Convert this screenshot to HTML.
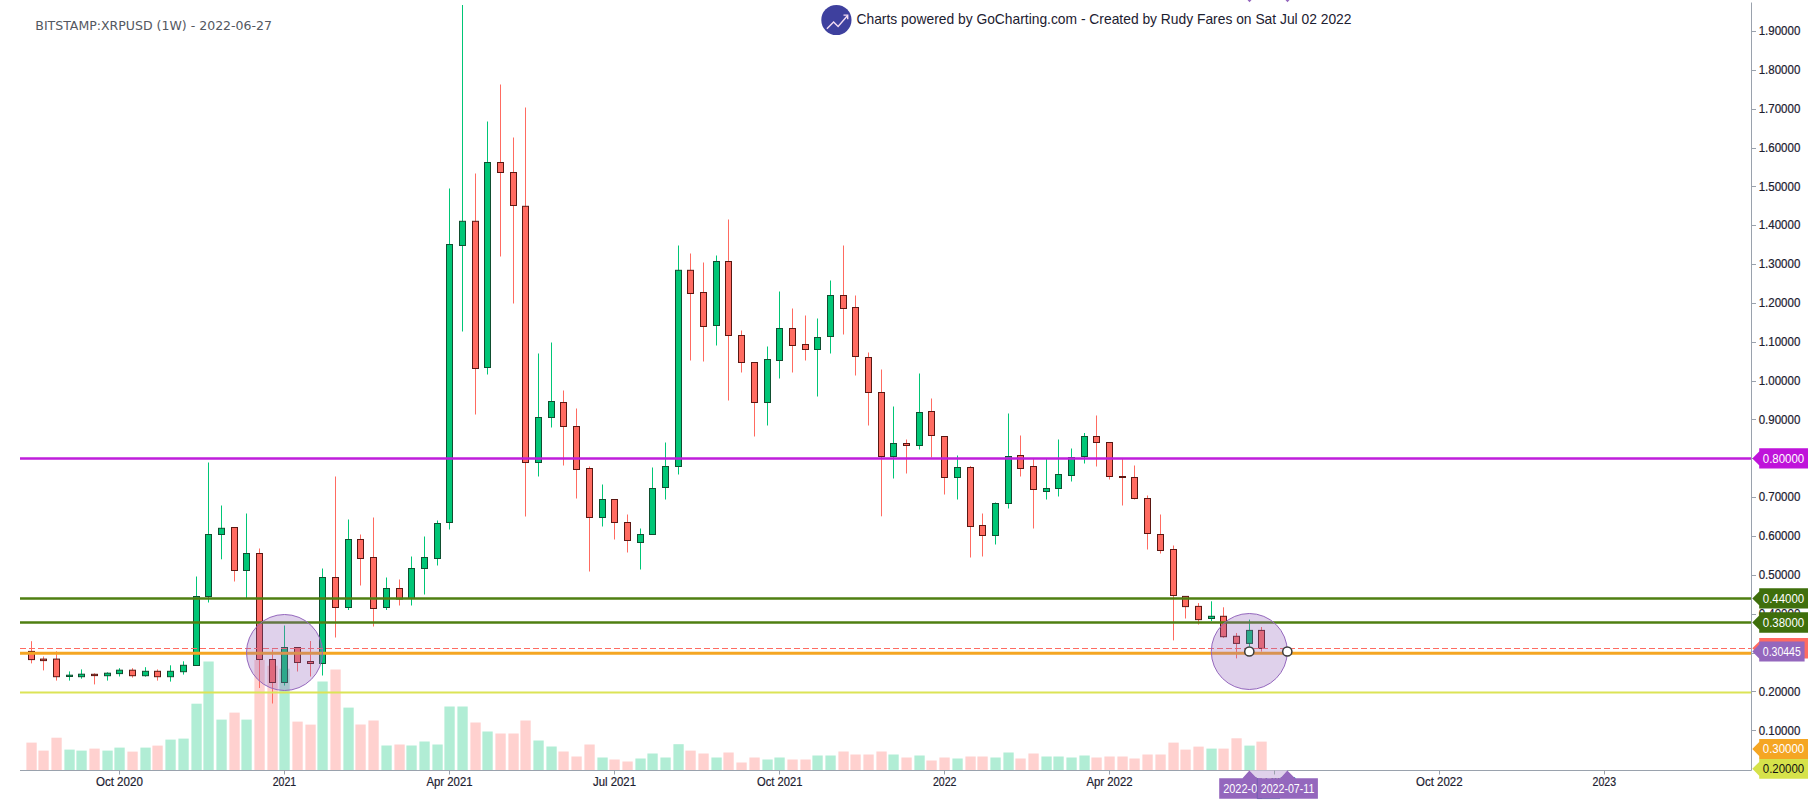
<!DOCTYPE html>
<html lang="en"><head><meta charset="utf-8"><title>BITSTAMP:XRPUSD (1W) - GoCharting</title>
<style>
html,body{margin:0;padding:0;background:#fff;}
body{width:1813px;height:804px;overflow:hidden;}
svg{display:block;}
.ax{font-family:"Liberation Sans",sans-serif;font-size:12.3px;fill:#1c2030;stroke:#1c2030;stroke-width:0.2px;}
.lb{font-family:"Liberation Sans",sans-serif;font-size:12.3px;fill:#fff;}
.hd{font-family:"Liberation Sans",sans-serif;font-size:14.5px;fill:#1c2030;}
.tt{font-family:"DejaVu Sans","Liberation Sans",sans-serif;font-size:13px;fill:#545861;}
</style></head><body>
<svg width="1813" height="804" viewBox="0 0 1813 804">
<rect width="1813" height="804" fill="#fff"/>
<g>
<rect x="26.4" y="742.6" width="10.3" height="27.6" fill="#ffd1cf"/>
<rect x="38.4" y="750.6" width="10.3" height="19.6" fill="#ffd1cf"/>
<rect x="51.4" y="737.7" width="10.3" height="32.5" fill="#ffd1cf"/>
<rect x="64.4" y="749.6" width="10.3" height="20.6" fill="#b1edd5"/>
<rect x="76.4" y="750.6" width="10.3" height="19.6" fill="#b1edd5"/>
<rect x="89.4" y="748.6" width="10.3" height="21.6" fill="#ffd1cf"/>
<rect x="102.4" y="750.6" width="10.3" height="19.6" fill="#b1edd5"/>
<rect x="114.4" y="747.6" width="10.3" height="22.6" fill="#b1edd5"/>
<rect x="127.4" y="751.6" width="10.3" height="18.6" fill="#ffd1cf"/>
<rect x="140.4" y="747.6" width="10.3" height="22.6" fill="#b1edd5"/>
<rect x="152.4" y="745.6" width="10.3" height="24.6" fill="#ffd1cf"/>
<rect x="165.4" y="739.6" width="10.3" height="30.6" fill="#b1edd5"/>
<rect x="178.4" y="738.6" width="10.3" height="31.6" fill="#b1edd5"/>
<rect x="191.4" y="703.7" width="10.3" height="66.5" fill="#b1edd5"/>
<rect x="203.4" y="661.5" width="10.3" height="108.7" fill="#b1edd5"/>
<rect x="216.4" y="719.6" width="10.3" height="50.6" fill="#b1edd5"/>
<rect x="229.4" y="712.6" width="10.3" height="57.6" fill="#ffd1cf"/>
<rect x="241.4" y="719.6" width="10.3" height="50.6" fill="#b1edd5"/>
<rect x="254.4" y="660" width="10.3" height="110.2" fill="#ffd1cf"/>
<rect x="267.4" y="665.7" width="10.3" height="104.5" fill="#ffd1cf"/>
<rect x="279.4" y="668.7" width="10.3" height="101.5" fill="#b1edd5"/>
<rect x="292.4" y="721.6" width="10.3" height="48.6" fill="#ffd1cf"/>
<rect x="305.4" y="724.6" width="10.3" height="45.6" fill="#ffd1cf"/>
<rect x="317.4" y="681.5" width="10.3" height="88.7" fill="#b1edd5"/>
<rect x="330.4" y="669.5" width="10.3" height="100.7" fill="#ffd1cf"/>
<rect x="343.4" y="707.6" width="10.3" height="62.6" fill="#b1edd5"/>
<rect x="355.4" y="724.5" width="10.3" height="45.7" fill="#ffd1cf"/>
<rect x="368.4" y="720.5" width="10.3" height="49.7" fill="#ffd1cf"/>
<rect x="381.4" y="745.5" width="10.3" height="24.7" fill="#b1edd5"/>
<rect x="394.4" y="744.5" width="10.3" height="25.7" fill="#ffd1cf"/>
<rect x="406.4" y="745.5" width="10.3" height="24.7" fill="#b1edd5"/>
<rect x="419.4" y="741.5" width="10.3" height="28.7" fill="#b1edd5"/>
<rect x="432.4" y="744.5" width="10.3" height="25.7" fill="#b1edd5"/>
<rect x="444.4" y="706.5" width="10.3" height="63.7" fill="#b1edd5"/>
<rect x="457.4" y="706.5" width="10.3" height="63.7" fill="#b1edd5"/>
<rect x="470.4" y="722.5" width="10.3" height="47.7" fill="#ffd1cf"/>
<rect x="482.4" y="731.5" width="10.3" height="38.7" fill="#b1edd5"/>
<rect x="495.4" y="733.5" width="10.3" height="36.7" fill="#ffd1cf"/>
<rect x="508.4" y="733.5" width="10.3" height="36.7" fill="#ffd1cf"/>
<rect x="520.4" y="720.5" width="10.3" height="49.7" fill="#ffd1cf"/>
<rect x="533.4" y="740.5" width="10.3" height="29.7" fill="#b1edd5"/>
<rect x="546.4" y="746.5" width="10.3" height="23.7" fill="#b1edd5"/>
<rect x="558.4" y="751.5" width="10.3" height="18.7" fill="#ffd1cf"/>
<rect x="571.4" y="756.5" width="10.3" height="13.7" fill="#ffd1cf"/>
<rect x="584.4" y="744.5" width="10.3" height="25.7" fill="#ffd1cf"/>
<rect x="597.4" y="757.5" width="10.3" height="12.7" fill="#b1edd5"/>
<rect x="609.4" y="759.5" width="10.3" height="10.7" fill="#ffd1cf"/>
<rect x="622.4" y="761.5" width="10.3" height="8.7" fill="#ffd1cf"/>
<rect x="635.4" y="758.5" width="10.3" height="11.7" fill="#b1edd5"/>
<rect x="647.4" y="753.5" width="10.3" height="16.7" fill="#b1edd5"/>
<rect x="660.4" y="757.5" width="10.3" height="12.7" fill="#b1edd5"/>
<rect x="673.4" y="744.2" width="10.3" height="26" fill="#b1edd5"/>
<rect x="685.4" y="750.6" width="10.3" height="19.6" fill="#ffd1cf"/>
<rect x="698.4" y="753.5" width="10.3" height="16.7" fill="#ffd1cf"/>
<rect x="711.4" y="757.5" width="10.3" height="12.7" fill="#b1edd5"/>
<rect x="723.4" y="752.5" width="10.3" height="17.7" fill="#ffd1cf"/>
<rect x="736.4" y="762.5" width="10.3" height="7.7" fill="#ffd1cf"/>
<rect x="749.4" y="757.5" width="10.3" height="12.7" fill="#ffd1cf"/>
<rect x="762.4" y="759.5" width="10.3" height="10.7" fill="#b1edd5"/>
<rect x="774.4" y="757.5" width="10.3" height="12.7" fill="#b1edd5"/>
<rect x="787.4" y="759.5" width="10.3" height="10.7" fill="#ffd1cf"/>
<rect x="800.4" y="759.5" width="10.3" height="10.7" fill="#ffd1cf"/>
<rect x="812.4" y="755.5" width="10.3" height="14.7" fill="#b1edd5"/>
<rect x="825.4" y="755.5" width="10.3" height="14.7" fill="#b1edd5"/>
<rect x="838.4" y="751.5" width="10.3" height="18.7" fill="#ffd1cf"/>
<rect x="850.4" y="754.5" width="10.3" height="15.7" fill="#ffd1cf"/>
<rect x="863.4" y="754.5" width="10.3" height="15.7" fill="#ffd1cf"/>
<rect x="876.4" y="751.5" width="10.3" height="18.7" fill="#ffd1cf"/>
<rect x="888.4" y="754.5" width="10.3" height="15.7" fill="#b1edd5"/>
<rect x="901.4" y="757.5" width="10.3" height="12.7" fill="#ffd1cf"/>
<rect x="914.4" y="755.5" width="10.3" height="14.7" fill="#b1edd5"/>
<rect x="926.4" y="760.5" width="10.3" height="9.7" fill="#ffd1cf"/>
<rect x="939.4" y="757.5" width="10.3" height="12.7" fill="#ffd1cf"/>
<rect x="952.4" y="758.5" width="10.3" height="11.7" fill="#b1edd5"/>
<rect x="965.4" y="756.5" width="10.3" height="13.7" fill="#ffd1cf"/>
<rect x="977.4" y="756.5" width="10.3" height="13.7" fill="#ffd1cf"/>
<rect x="990.4" y="757.5" width="10.3" height="12.7" fill="#b1edd5"/>
<rect x="1003.4" y="752.5" width="10.3" height="17.7" fill="#b1edd5"/>
<rect x="1015.4" y="758.5" width="10.3" height="11.7" fill="#ffd1cf"/>
<rect x="1028.4" y="753.5" width="10.3" height="16.7" fill="#ffd1cf"/>
<rect x="1041.4" y="756.5" width="10.3" height="13.7" fill="#b1edd5"/>
<rect x="1053.4" y="756.5" width="10.3" height="13.7" fill="#b1edd5"/>
<rect x="1066.4" y="757.5" width="10.3" height="12.7" fill="#b1edd5"/>
<rect x="1079.4" y="755.5" width="10.3" height="14.7" fill="#b1edd5"/>
<rect x="1091.4" y="757.5" width="10.3" height="12.7" fill="#ffd1cf"/>
<rect x="1104.4" y="756.5" width="10.3" height="13.7" fill="#ffd1cf"/>
<rect x="1117.4" y="756.5" width="10.3" height="13.7" fill="#ffd1cf"/>
<rect x="1129.4" y="758.5" width="10.3" height="11.7" fill="#ffd1cf"/>
<rect x="1142.4" y="754.5" width="10.3" height="15.7" fill="#ffd1cf"/>
<rect x="1155.4" y="754.5" width="10.3" height="15.7" fill="#ffd1cf"/>
<rect x="1168.4" y="742.6" width="10.3" height="27.6" fill="#ffd1cf"/>
<rect x="1180.4" y="749.6" width="10.3" height="20.6" fill="#ffd1cf"/>
<rect x="1193.4" y="746.6" width="10.3" height="23.6" fill="#ffd1cf"/>
<rect x="1206.4" y="748.6" width="10.3" height="21.6" fill="#b1edd5"/>
<rect x="1218.4" y="748.6" width="10.3" height="21.6" fill="#ffd1cf"/>
<rect x="1231.4" y="738.3" width="10.3" height="31.9" fill="#ffd1cf"/>
<rect x="1244.4" y="745.6" width="10.3" height="24.6" fill="#b1edd5"/>
<rect x="1256.4" y="741.6" width="10.3" height="28.6" fill="#ffd1cf"/>
</g>
<g>
<path d="M31.5 641.2V663.4" stroke="#ff6b61" stroke-width="1"/>
<rect x="28.5" y="651.4" width="6" height="8.2" fill="#ff6b61" stroke="#5a1712" stroke-width="1"/>
<path d="M43.5 656.5V670.4" stroke="#ff6b61" stroke-width="1"/>
<rect x="40.5" y="659.1" width="6" height="1.5" fill="#ff6b61" stroke="#5a1712" stroke-width="1"/>
<path d="M56.5 651.4V680.6" stroke="#ff6b61" stroke-width="1"/>
<rect x="53.5" y="659.1" width="6" height="17.6" fill="#ff6b61" stroke="#5a1712" stroke-width="1"/>
<path d="M69.5 671.4V680.6" stroke="#00c676" stroke-width="1"/>
<rect x="66.5" y="675.2" width="6" height="1.3" fill="#00c676" stroke="#0f4f30" stroke-width="1"/>
<path d="M81.5 669.4V678.7" stroke="#00c676" stroke-width="1"/>
<rect x="78.5" y="674.2" width="6" height="2.5" fill="#00c676" stroke="#0f4f30" stroke-width="1"/>
<path d="M94.5 673.3V684.4" stroke="#ff6b61" stroke-width="1"/>
<rect x="91.5" y="674.3" width="6" height="1.3" fill="#ff6b61" stroke="#5a1712" stroke-width="1"/>
<path d="M107.5 672.3V680.6" stroke="#00c676" stroke-width="1"/>
<rect x="104.5" y="673.2" width="6" height="2.5" fill="#00c676" stroke="#0f4f30" stroke-width="1"/>
<path d="M119.5 668.2V676.5" stroke="#00c676" stroke-width="1"/>
<rect x="116.5" y="670.2" width="6" height="3.4" fill="#00c676" stroke="#0f4f30" stroke-width="1"/>
<path d="M132.5 668.2V677.6" stroke="#ff6b61" stroke-width="1"/>
<rect x="129.5" y="670.2" width="6" height="5.5" fill="#ff6b61" stroke="#5a1712" stroke-width="1"/>
<path d="M145.5 667.2V676.7" stroke="#00c676" stroke-width="1"/>
<rect x="142.5" y="671.3" width="6" height="4.4" fill="#00c676" stroke="#0f4f30" stroke-width="1"/>
<path d="M157.5 669.4V680.6" stroke="#ff6b61" stroke-width="1"/>
<rect x="154.5" y="671.3" width="6" height="5.4" fill="#ff6b61" stroke="#5a1712" stroke-width="1"/>
<path d="M170.5 665.3V681.6" stroke="#00c676" stroke-width="1"/>
<rect x="167.5" y="671.3" width="6" height="5.4" fill="#00c676" stroke="#0f4f30" stroke-width="1"/>
<path d="M183.5 661.3V674.6" stroke="#00c676" stroke-width="1"/>
<rect x="180.5" y="665.3" width="6" height="6.4" fill="#00c676" stroke="#0f4f30" stroke-width="1"/>
<path d="M196.5 576.5V665.5" stroke="#00c676" stroke-width="1"/>
<rect x="193.5" y="596.5" width="6" height="69" fill="#00c676" stroke="#0f4f30" stroke-width="1"/>
<path d="M208.5 462.5V602.5" stroke="#00c676" stroke-width="1"/>
<rect x="205.5" y="534.5" width="6" height="62" fill="#00c676" stroke="#0f4f30" stroke-width="1"/>
<path d="M221.5 505.5V559.3" stroke="#00c676" stroke-width="1"/>
<rect x="218.5" y="528.3" width="6" height="6.2" fill="#00c676" stroke="#0f4f30" stroke-width="1"/>
<path d="M234.5 527.5V581.5" stroke="#ff6b61" stroke-width="1"/>
<rect x="231.5" y="527.5" width="6" height="43" fill="#ff6b61" stroke="#5a1712" stroke-width="1"/>
<path d="M246.5 513.5V599" stroke="#00c676" stroke-width="1"/>
<rect x="243.5" y="553.5" width="6" height="17" fill="#00c676" stroke="#0f4f30" stroke-width="1"/>
<path d="M259.5 548.5V688" stroke="#ff6b61" stroke-width="1"/>
<rect x="256.5" y="553.5" width="6" height="106" fill="#ff6b61" stroke="#5a1712" stroke-width="1"/>
<path d="M272.5 649.5V703.5" stroke="#ff6b61" stroke-width="1"/>
<rect x="269.5" y="659.5" width="6" height="23" fill="#ff6b61" stroke="#5a1712" stroke-width="1"/>
<path d="M284.5 625.5V685.5" stroke="#00c676" stroke-width="1"/>
<rect x="281.5" y="647.5" width="6" height="35" fill="#00c676" stroke="#0f4f30" stroke-width="1"/>
<path d="M297.5 647.5V671.5" stroke="#ff6b61" stroke-width="1"/>
<rect x="294.5" y="647.5" width="6" height="15" fill="#ff6b61" stroke="#5a1712" stroke-width="1"/>
<path d="M310.5 641V676.5" stroke="#ff6b61" stroke-width="1"/>
<rect x="307.5" y="661.5" width="6" height="2" fill="#ff6b61" stroke="#5a1712" stroke-width="1"/>
<path d="M322.5 568.5V675.5" stroke="#00c676" stroke-width="1"/>
<rect x="319.5" y="577.5" width="6" height="86" fill="#00c676" stroke="#0f4f30" stroke-width="1"/>
<path d="M335.5 476.5V637.5" stroke="#ff6b61" stroke-width="1"/>
<rect x="332.5" y="577.5" width="6" height="30" fill="#ff6b61" stroke="#5a1712" stroke-width="1"/>
<path d="M348.5 519.5V610" stroke="#00c676" stroke-width="1"/>
<rect x="345.5" y="539.5" width="6" height="68" fill="#00c676" stroke="#0f4f30" stroke-width="1"/>
<path d="M360.5 534.5V585.5" stroke="#ff6b61" stroke-width="1"/>
<rect x="357.5" y="539.5" width="6" height="19" fill="#ff6b61" stroke="#5a1712" stroke-width="1"/>
<path d="M373.5 517.5V626.5" stroke="#ff6b61" stroke-width="1"/>
<rect x="370.5" y="557.5" width="6" height="51" fill="#ff6b61" stroke="#5a1712" stroke-width="1"/>
<path d="M386.5 577.5V610" stroke="#00c676" stroke-width="1"/>
<rect x="383.5" y="588.5" width="6" height="19" fill="#00c676" stroke="#0f4f30" stroke-width="1"/>
<path d="M399.5 579.5V605.5" stroke="#ff6b61" stroke-width="1"/>
<rect x="396.5" y="588.5" width="6" height="10.5" fill="#ff6b61" stroke="#5a1712" stroke-width="1"/>
<path d="M411.5 556.5V605.5" stroke="#00c676" stroke-width="1"/>
<rect x="408.5" y="568.5" width="6" height="30" fill="#00c676" stroke="#0f4f30" stroke-width="1"/>
<path d="M424.5 536.5V594.5" stroke="#00c676" stroke-width="1"/>
<rect x="421.5" y="557.5" width="6" height="11" fill="#00c676" stroke="#0f4f30" stroke-width="1"/>
<path d="M437.5 520.5V565.5" stroke="#00c676" stroke-width="1"/>
<rect x="434.5" y="523.5" width="6" height="35" fill="#00c676" stroke="#0f4f30" stroke-width="1"/>
<path d="M449.5 188.5V529.5" stroke="#00c676" stroke-width="1"/>
<rect x="446.5" y="244.5" width="6" height="278" fill="#00c676" stroke="#0f4f30" stroke-width="1"/>
<path d="M462.5 5V331.5" stroke="#00c676" stroke-width="1"/>
<rect x="459.5" y="221.3" width="6" height="24.2" fill="#00c676" stroke="#0f4f30" stroke-width="1"/>
<path d="M475.5 173.5V414.5" stroke="#ff6b61" stroke-width="1"/>
<rect x="472.5" y="221.3" width="6" height="147.2" fill="#ff6b61" stroke="#5a1712" stroke-width="1"/>
<path d="M487.5 121.5V374.5" stroke="#00c676" stroke-width="1"/>
<rect x="484.5" y="162.5" width="6" height="205" fill="#00c676" stroke="#0f4f30" stroke-width="1"/>
<path d="M500.5 84.5V256.5" stroke="#ff6b61" stroke-width="1"/>
<rect x="497.5" y="162.5" width="6" height="10" fill="#ff6b61" stroke="#5a1712" stroke-width="1"/>
<path d="M513.5 137.5V303.5" stroke="#ff6b61" stroke-width="1"/>
<rect x="510.5" y="172.5" width="6" height="33" fill="#ff6b61" stroke="#5a1712" stroke-width="1"/>
<path d="M525.5 107.5V516.5" stroke="#ff6b61" stroke-width="1"/>
<rect x="522.5" y="206.3" width="6" height="256.2" fill="#ff6b61" stroke="#5a1712" stroke-width="1"/>
<path d="M538.5 353.5V476.5" stroke="#00c676" stroke-width="1"/>
<rect x="535.5" y="417.5" width="6" height="45" fill="#00c676" stroke="#0f4f30" stroke-width="1"/>
<path d="M551.5 342.5V427.5" stroke="#00c676" stroke-width="1"/>
<rect x="548.5" y="401.5" width="6" height="16" fill="#00c676" stroke="#0f4f30" stroke-width="1"/>
<path d="M563.5 390.5V465.5" stroke="#ff6b61" stroke-width="1"/>
<rect x="560.5" y="402.5" width="6" height="24" fill="#ff6b61" stroke="#5a1712" stroke-width="1"/>
<path d="M576.5 408.5V498.5" stroke="#ff6b61" stroke-width="1"/>
<rect x="573.5" y="426.5" width="6" height="43" fill="#ff6b61" stroke="#5a1712" stroke-width="1"/>
<path d="M589.5 466.5V571.5" stroke="#ff6b61" stroke-width="1"/>
<rect x="586.5" y="468.5" width="6" height="49" fill="#ff6b61" stroke="#5a1712" stroke-width="1"/>
<path d="M602.5 484.5V526.5" stroke="#00c676" stroke-width="1"/>
<rect x="599.5" y="499.5" width="6" height="18" fill="#00c676" stroke="#0f4f30" stroke-width="1"/>
<path d="M614.5 499.5V539.5" stroke="#ff6b61" stroke-width="1"/>
<rect x="611.5" y="499.5" width="6" height="23" fill="#ff6b61" stroke="#5a1712" stroke-width="1"/>
<path d="M627.5 514.5V552.5" stroke="#ff6b61" stroke-width="1"/>
<rect x="624.5" y="522.5" width="6" height="18" fill="#ff6b61" stroke="#5a1712" stroke-width="1"/>
<path d="M640.5 528.5V569.5" stroke="#00c676" stroke-width="1"/>
<rect x="637.5" y="534.5" width="6" height="8" fill="#00c676" stroke="#0f4f30" stroke-width="1"/>
<path d="M652.5 467.5V534.5" stroke="#00c676" stroke-width="1"/>
<rect x="649.5" y="488.5" width="6" height="46" fill="#00c676" stroke="#0f4f30" stroke-width="1"/>
<path d="M665.5 442.5V499.5" stroke="#00c676" stroke-width="1"/>
<rect x="662.5" y="466.5" width="6" height="21" fill="#00c676" stroke="#0f4f30" stroke-width="1"/>
<path d="M678.5 245.5V474.5" stroke="#00c676" stroke-width="1"/>
<rect x="675.5" y="270.3" width="6" height="196.2" fill="#00c676" stroke="#0f4f30" stroke-width="1"/>
<path d="M690.5 253.5V360.5" stroke="#ff6b61" stroke-width="1"/>
<rect x="687.5" y="270.3" width="6" height="23.2" fill="#ff6b61" stroke="#5a1712" stroke-width="1"/>
<path d="M703.5 262.5V361.5" stroke="#ff6b61" stroke-width="1"/>
<rect x="700.5" y="292.5" width="6" height="34" fill="#ff6b61" stroke="#5a1712" stroke-width="1"/>
<path d="M716.5 255.5V345.5" stroke="#00c676" stroke-width="1"/>
<rect x="713.5" y="261.5" width="6" height="64" fill="#00c676" stroke="#0f4f30" stroke-width="1"/>
<path d="M728.5 219.5V400.5" stroke="#ff6b61" stroke-width="1"/>
<rect x="725.5" y="261.5" width="6" height="74" fill="#ff6b61" stroke="#5a1712" stroke-width="1"/>
<path d="M741.5 330.5V372.5" stroke="#ff6b61" stroke-width="1"/>
<rect x="738.5" y="335.5" width="6" height="27" fill="#ff6b61" stroke="#5a1712" stroke-width="1"/>
<path d="M754.5 362.5V436.5" stroke="#ff6b61" stroke-width="1"/>
<rect x="751.5" y="362.5" width="6" height="40" fill="#ff6b61" stroke="#5a1712" stroke-width="1"/>
<path d="M767.5 346.5V425.5" stroke="#00c676" stroke-width="1"/>
<rect x="764.5" y="359.5" width="6" height="43" fill="#00c676" stroke="#0f4f30" stroke-width="1"/>
<path d="M779.5 291.5V378.5" stroke="#00c676" stroke-width="1"/>
<rect x="776.5" y="328.5" width="6" height="32" fill="#00c676" stroke="#0f4f30" stroke-width="1"/>
<path d="M792.5 308.5V372.5" stroke="#ff6b61" stroke-width="1"/>
<rect x="789.5" y="328.5" width="6" height="17" fill="#ff6b61" stroke="#5a1712" stroke-width="1"/>
<path d="M805.5 315.5V360.5" stroke="#ff6b61" stroke-width="1"/>
<rect x="802.5" y="344.5" width="6" height="5" fill="#ff6b61" stroke="#5a1712" stroke-width="1"/>
<path d="M817.5 318.5V396.5" stroke="#00c676" stroke-width="1"/>
<rect x="814.5" y="337.5" width="6" height="12" fill="#00c676" stroke="#0f4f30" stroke-width="1"/>
<path d="M830.5 280.5V353.5" stroke="#00c676" stroke-width="1"/>
<rect x="827.5" y="295.5" width="6" height="41" fill="#00c676" stroke="#0f4f30" stroke-width="1"/>
<path d="M843.5 245.5V334.5" stroke="#ff6b61" stroke-width="1"/>
<rect x="840.5" y="295.5" width="6" height="13" fill="#ff6b61" stroke="#5a1712" stroke-width="1"/>
<path d="M855.5 295.5V375.5" stroke="#ff6b61" stroke-width="1"/>
<rect x="852.5" y="307.5" width="6" height="49" fill="#ff6b61" stroke="#5a1712" stroke-width="1"/>
<path d="M868.5 352.5V425.5" stroke="#ff6b61" stroke-width="1"/>
<rect x="865.5" y="357.5" width="6" height="35" fill="#ff6b61" stroke="#5a1712" stroke-width="1"/>
<path d="M881.5 369.5V516.3" stroke="#ff6b61" stroke-width="1"/>
<rect x="878.5" y="392.5" width="6" height="64" fill="#ff6b61" stroke="#5a1712" stroke-width="1"/>
<path d="M893.5 406.5V478.5" stroke="#00c676" stroke-width="1"/>
<rect x="890.5" y="443.5" width="6" height="13" fill="#00c676" stroke="#0f4f30" stroke-width="1"/>
<path d="M906.5 439.5V473.5" stroke="#ff6b61" stroke-width="1"/>
<rect x="903.5" y="443.5" width="6" height="2" fill="#ff6b61" stroke="#5a1712" stroke-width="1"/>
<path d="M919.5 373.5V449.5" stroke="#00c676" stroke-width="1"/>
<rect x="916.5" y="412.5" width="6" height="33" fill="#00c676" stroke="#0f4f30" stroke-width="1"/>
<path d="M931.5 398.5V457.5" stroke="#ff6b61" stroke-width="1"/>
<rect x="928.5" y="411.5" width="6" height="24" fill="#ff6b61" stroke="#5a1712" stroke-width="1"/>
<path d="M944.5 436.5V494.5" stroke="#ff6b61" stroke-width="1"/>
<rect x="941.5" y="436.5" width="6" height="41" fill="#ff6b61" stroke="#5a1712" stroke-width="1"/>
<path d="M957.5 455.5V499.5" stroke="#00c676" stroke-width="1"/>
<rect x="954.5" y="467.5" width="6" height="10" fill="#00c676" stroke="#0f4f30" stroke-width="1"/>
<path d="M970.5 466V557.5" stroke="#ff6b61" stroke-width="1"/>
<rect x="967.5" y="467.5" width="6" height="59" fill="#ff6b61" stroke="#5a1712" stroke-width="1"/>
<path d="M982.5 513.5V556.5" stroke="#ff6b61" stroke-width="1"/>
<rect x="979.5" y="525.5" width="6" height="10" fill="#ff6b61" stroke="#5a1712" stroke-width="1"/>
<path d="M995.5 502.5V544.5" stroke="#00c676" stroke-width="1"/>
<rect x="992.5" y="503.5" width="6" height="32" fill="#00c676" stroke="#0f4f30" stroke-width="1"/>
<path d="M1008.5 413.5V508.5" stroke="#00c676" stroke-width="1"/>
<rect x="1005.5" y="456.5" width="6" height="47" fill="#00c676" stroke="#0f4f30" stroke-width="1"/>
<path d="M1020.5 435.5V476.5" stroke="#ff6b61" stroke-width="1"/>
<rect x="1017.5" y="455.5" width="6" height="13" fill="#ff6b61" stroke="#5a1712" stroke-width="1"/>
<path d="M1033.5 458.5V528.5" stroke="#ff6b61" stroke-width="1"/>
<rect x="1030.5" y="466.5" width="6" height="23" fill="#ff6b61" stroke="#5a1712" stroke-width="1"/>
<path d="M1046.5 458.5V499.5" stroke="#00c676" stroke-width="1"/>
<rect x="1043.5" y="488.5" width="6" height="3" fill="#00c676" stroke="#0f4f30" stroke-width="1"/>
<path d="M1058.5 439.5V496.5" stroke="#00c676" stroke-width="1"/>
<rect x="1055.5" y="474.5" width="6" height="14" fill="#00c676" stroke="#0f4f30" stroke-width="1"/>
<path d="M1071.5 448.5V481.5" stroke="#00c676" stroke-width="1"/>
<rect x="1068.5" y="457.5" width="6" height="18" fill="#00c676" stroke="#0f4f30" stroke-width="1"/>
<path d="M1084.5 433V463.5" stroke="#00c676" stroke-width="1"/>
<rect x="1081.5" y="436.5" width="6" height="20" fill="#00c676" stroke="#0f4f30" stroke-width="1"/>
<path d="M1096.5 415.5V466.5" stroke="#ff6b61" stroke-width="1"/>
<rect x="1093.5" y="436.5" width="6" height="6" fill="#ff6b61" stroke="#5a1712" stroke-width="1"/>
<path d="M1109.5 442.5V479.5" stroke="#ff6b61" stroke-width="1"/>
<rect x="1106.5" y="442.5" width="6" height="34" fill="#ff6b61" stroke="#5a1712" stroke-width="1"/>
<path d="M1122.5 458.5V505.5" stroke="#ff6b61" stroke-width="1"/>
<rect x="1119.5" y="476.5" width="6" height="1" fill="#ff6b61" stroke="#5a1712" stroke-width="1"/>
<path d="M1134.5 465.5V499.5" stroke="#ff6b61" stroke-width="1"/>
<rect x="1131.5" y="477.5" width="6" height="21" fill="#ff6b61" stroke="#5a1712" stroke-width="1"/>
<path d="M1147.5 495.5V549.5" stroke="#ff6b61" stroke-width="1"/>
<rect x="1144.5" y="498.5" width="6" height="35" fill="#ff6b61" stroke="#5a1712" stroke-width="1"/>
<path d="M1160.5 514.5V553.5" stroke="#ff6b61" stroke-width="1"/>
<rect x="1157.5" y="534.5" width="6" height="16" fill="#ff6b61" stroke="#5a1712" stroke-width="1"/>
<path d="M1173.5 545.5V640.4" stroke="#ff6b61" stroke-width="1"/>
<rect x="1170.5" y="549.5" width="6" height="46" fill="#ff6b61" stroke="#5a1712" stroke-width="1"/>
<path d="M1185.5 596.4V618.5" stroke="#ff6b61" stroke-width="1"/>
<rect x="1182.5" y="596.4" width="6" height="10.2" fill="#ff6b61" stroke="#5a1712" stroke-width="1"/>
<path d="M1198.5 603.1V624.5" stroke="#ff6b61" stroke-width="1"/>
<rect x="1195.5" y="606.4" width="6" height="13.2" fill="#ff6b61" stroke="#5a1712" stroke-width="1"/>
<path d="M1211.5 601.3V621" stroke="#00c676" stroke-width="1"/>
<rect x="1208.5" y="616.3" width="6" height="2.2" fill="#00c676" stroke="#0f4f30" stroke-width="1"/>
<path d="M1223.5 607.3V637.9" stroke="#ff6b61" stroke-width="1"/>
<rect x="1220.5" y="616.3" width="6" height="20.4" fill="#ff6b61" stroke="#5a1712" stroke-width="1"/>
<path d="M1236.5 633V658.4" stroke="#ff6b61" stroke-width="1"/>
<rect x="1233.5" y="636.3" width="6" height="7.1" fill="#ff6b61" stroke="#5a1712" stroke-width="1"/>
<path d="M1249.5 619.6V646.4" stroke="#00c676" stroke-width="1"/>
<rect x="1246.5" y="630.4" width="6" height="13" fill="#00c676" stroke="#0f4f30" stroke-width="1"/>
<path d="M1261.5 627V651.6" stroke="#ff6b61" stroke-width="1"/>
<rect x="1258.5" y="630.4" width="6" height="18" fill="#ff6b61" stroke="#5a1712" stroke-width="1"/>
</g>
<g fill="none">
<line x1="20" x2="1751.5" y1="692.4" y2="692.4" stroke="#dce456" stroke-width="2"/>
<line x1="20" x2="1751.5" y1="653.3" y2="653.3" stroke="#f5a623" stroke-width="3"/>
<line x1="20" x2="1751.5" y1="648.5" y2="648.5" stroke="#ff6b61" stroke-width="1" stroke-dasharray="6 3"/>
<line x1="20" x2="1751.5" y1="622.5" y2="622.5" stroke="#4f7f12" stroke-width="2.3"/>
<line x1="20" x2="1751.5" y1="598.5" y2="598.5" stroke="#4f7f12" stroke-width="2.3"/>
<line x1="20" x2="1751.5" y1="458.5" y2="458.5" stroke="#bf1edb" stroke-width="2.4"/>
</g>
<circle cx="284.5" cy="652.5" r="38" fill="#9467bd" fill-opacity="0.3" stroke="#9467bd" stroke-width="1"/>
<circle cx="1249.3" cy="651.5" r="38" fill="#9467bd" fill-opacity="0.3" stroke="#9467bd" stroke-width="1"/>
<circle cx="1249.3" cy="651.5" r="4.6" fill="#fff" stroke="#3c3c3c" stroke-width="1.5"/>
<circle cx="1287.3" cy="651.5" r="4.6" fill="#fff" stroke="#3c3c3c" stroke-width="1.5"/>
<g stroke="#9aa2ad" stroke-width="1" fill="none">
<path d="M1751.5 2.5V770.5H20"/>
<path d="M1751.5 31.5H1756"/>
<path d="M1751.5 70.5H1756"/>
<path d="M1751.5 109.5H1756"/>
<path d="M1751.5 148.5H1756"/>
<path d="M1751.5 186.5H1756"/>
<path d="M1751.5 225.5H1756"/>
<path d="M1751.5 264.5H1756"/>
<path d="M1751.5 303.5H1756"/>
<path d="M1751.5 342.5H1756"/>
<path d="M1751.5 381.5H1756"/>
<path d="M1751.5 419.5H1756"/>
<path d="M1751.5 458.5H1756"/>
<path d="M1751.5 497.5H1756"/>
<path d="M1751.5 536.5H1756"/>
<path d="M1751.5 575.5H1756"/>
<path d="M1751.5 614.5H1756"/>
<path d="M1751.5 653.5H1756"/>
<path d="M1751.5 691.5H1756"/>
<path d="M1751.5 730.5H1756"/>
<path d="M119.5 770.5V774.5"/>
<path d="M284.5 770.5V774.5"/>
<path d="M449.5 770.5V774.5"/>
<path d="M614.5 770.5V774.5"/>
<path d="M779.5 770.5V774.5"/>
<path d="M944.5 770.5V774.5"/>
<path d="M1109.5 770.5V774.5"/>
<path d="M1274.5 770.5V774.5"/>
<path d="M1439.5 770.5V774.5"/>
<path d="M1604.5 770.5V774.5"/>
</g>
<g class="ax">
<text x="1758.7" y="35.1" textLength="41.6" lengthAdjust="spacingAndGlyphs">1.90000</text>
<text x="1758.7" y="74" textLength="41.6" lengthAdjust="spacingAndGlyphs">1.80000</text>
<text x="1758.7" y="112.9" textLength="41.6" lengthAdjust="spacingAndGlyphs">1.70000</text>
<text x="1758.7" y="151.7" textLength="41.6" lengthAdjust="spacingAndGlyphs">1.60000</text>
<text x="1758.7" y="190.5" textLength="41.6" lengthAdjust="spacingAndGlyphs">1.50000</text>
<text x="1758.7" y="229.4" textLength="41.6" lengthAdjust="spacingAndGlyphs">1.40000</text>
<text x="1758.7" y="268.2" textLength="41.6" lengthAdjust="spacingAndGlyphs">1.30000</text>
<text x="1758.7" y="307.1" textLength="41.6" lengthAdjust="spacingAndGlyphs">1.20000</text>
<text x="1758.7" y="345.9" textLength="41.6" lengthAdjust="spacingAndGlyphs">1.10000</text>
<text x="1758.7" y="384.8" textLength="41.6" lengthAdjust="spacingAndGlyphs">1.00000</text>
<text x="1758.7" y="423.6" textLength="41.6" lengthAdjust="spacingAndGlyphs">0.90000</text>
<text x="1758.7" y="462.5" textLength="41.6" lengthAdjust="spacingAndGlyphs">0.80000</text>
<text x="1758.7" y="501.4" textLength="41.6" lengthAdjust="spacingAndGlyphs">0.70000</text>
<text x="1758.7" y="540.2" textLength="41.6" lengthAdjust="spacingAndGlyphs">0.60000</text>
<text x="1758.7" y="579.1" textLength="41.6" lengthAdjust="spacingAndGlyphs">0.50000</text>
<text x="1758.7" y="617.9" textLength="41.6" lengthAdjust="spacingAndGlyphs">0.40000</text>
<text x="1758.7" y="656.8" textLength="41.6" lengthAdjust="spacingAndGlyphs">0.30000</text>
<text x="1758.7" y="695.6" textLength="41.6" lengthAdjust="spacingAndGlyphs">0.20000</text>
<text x="1758.7" y="734.5" textLength="41.6" lengthAdjust="spacingAndGlyphs">0.10000</text>
</g>
<g class="ax" text-anchor="middle">
<text x="119.4" y="786" textLength="47" lengthAdjust="spacingAndGlyphs">Oct 2020</text>
<text x="284.5" y="786" textLength="23.5" lengthAdjust="spacingAndGlyphs">2021</text>
<text x="449.5" y="786" textLength="46" lengthAdjust="spacingAndGlyphs">Apr 2021</text>
<text x="614.5" y="786" textLength="43" lengthAdjust="spacingAndGlyphs">Jul 2021</text>
<text x="779.7" y="786" textLength="45.5" lengthAdjust="spacingAndGlyphs">Oct 2021</text>
<text x="944.7" y="786" textLength="23.5" lengthAdjust="spacingAndGlyphs">2022</text>
<text x="1109.5" y="786" textLength="46" lengthAdjust="spacingAndGlyphs">Apr 2022</text>
<text x="1274.5" y="786" textLength="43" lengthAdjust="spacingAndGlyphs">Jul 2022</text>
<text x="1439.3" y="786" textLength="46.5" lengthAdjust="spacingAndGlyphs">Oct 2022</text>
<text x="1604.3" y="786" textLength="23.5" lengthAdjust="spacingAndGlyphs">2023</text>
</g>
<path d="M1752.3 458.4 L1759.2 451.5 V448.2 H1808 V468.6 H1759.2 V465.3 Z" fill="#bf13da"/>
<text class="lb" x="1762.8" y="462.5" textLength="41.4" lengthAdjust="spacingAndGlyphs" fill="#fff" style="fill:#fff">0.80000</text>
<path d="M1752.3 598.4 L1759.2 591.5 V588.2 H1808 V608.6 H1759.2 V605.3 Z" fill="#3f6f0c"/>
<text class="lb" x="1762.8" y="602.5" textLength="41.4" lengthAdjust="spacingAndGlyphs" fill="#fff" style="fill:#fff">0.44000</text>
<path d="M1752.3 622.5 L1759.2 615.6 V612.3 H1808 V632.7 H1759.2 V629.4 Z" fill="#3f6f0c"/>
<text class="lb" x="1762.8" y="626.6" textLength="41.4" lengthAdjust="spacingAndGlyphs" fill="#fff" style="fill:#fff">0.38000</text>
<path d="M1752.3 648.3 L1759.2 641.4 V638 H1808 V658.4 H1759.2 V655.2 Z" fill="#ff6b61"/>
<path d="M1752.3 651.5 L1759.2 644.6 V641.4 H1804.6 V661.6 H1759.2 V658.4 Z" fill="#9467bd"/>
<text class="lb" x="1762.8" y="655.6" textLength="38" lengthAdjust="spacingAndGlyphs">0.30445</text>
<path d="M1752.3 749 L1759.2 742.1 V739.1 H1808 V758.9 H1759.2 V755.9 Z" fill="#f5a623"/>
<text class="lb" x="1762.8" y="753.1" textLength="41.4" lengthAdjust="spacingAndGlyphs" fill="#fff" style="fill:#fff">0.30000</text>
<path d="M1752.3 768.8 L1759.2 761.9 V758.9 H1808 V778.7 H1759.2 V775.7 Z" fill="#d6e24a"/>
<text class="lb" x="1762.8" y="772.9" textLength="41.4" lengthAdjust="spacingAndGlyphs" fill="#111" style="fill:#111">0.20000</text>
<path d="M1249.4 770.5 L1256.9 778.2 H1280.3 L1287.3 770.5 Z" fill="#dfd1eb"/>
<path d="M1274.5 770.5V774.5" stroke="#9aa2ad" stroke-width="1"/>
<path d="M1219.2 778.2 H1242.5 L1249.4 770.5 L1256.9 778.2 H1262 V798.8 H1219.2 Z" fill="#9467bd"/>
<text class="lb" x="1223.2" y="792.6" textLength="56" lengthAdjust="spacingAndGlyphs" clip-path="url(#cl1)">2022-06-27</text>
<path d="M1257.1 778.2 H1280.3 L1287.3 770.5 L1295 778.2 H1317.9 V798.8 H1257.1 Z" fill="#9467bd"/>
<path d="M1257.3 778.2 V798.6 H1280" stroke="#5a5aa8" stroke-width="0.6" fill="none"/>
<text class="lb" x="1260.8" y="792.6" textLength="53.5" lengthAdjust="spacingAndGlyphs">2022-07-11</text>
<defs><clipPath id="cl1"><rect x="1219" y="778" width="38.1" height="21"/></clipPath></defs>
<path d="M1247.5 0H1251.5L1249.5 2.2Z M1285.5 0H1289.5L1287.5 2.2Z" fill="#9467bd"/>
<circle cx="836.4" cy="20" r="15.1" fill="#3e409e"/>
<path d="M826.9 28.7 L833.6 22 L838.1 26.5 L847.2 16" fill="none" stroke="#f3dcf3" stroke-width="1.4" stroke-linejoin="miter"/>
<path d="M843.5 15.1 L847.7 15.1 L847.7 19.3" fill="none" stroke="#f3dcf3" stroke-width="1.4"/>
<text class="hd" x="856.5" y="24" textLength="495" lengthAdjust="spacingAndGlyphs">Charts powered by GoCharting.com - Created by Rudy Fares on Sat Jul 02 2022</text>
<text class="tt" x="35.3" y="30" textLength="236.7" lengthAdjust="spacingAndGlyphs">BITSTAMP:XRPUSD (1W) - 2022-06-27</text>
</svg>
</body></html>
